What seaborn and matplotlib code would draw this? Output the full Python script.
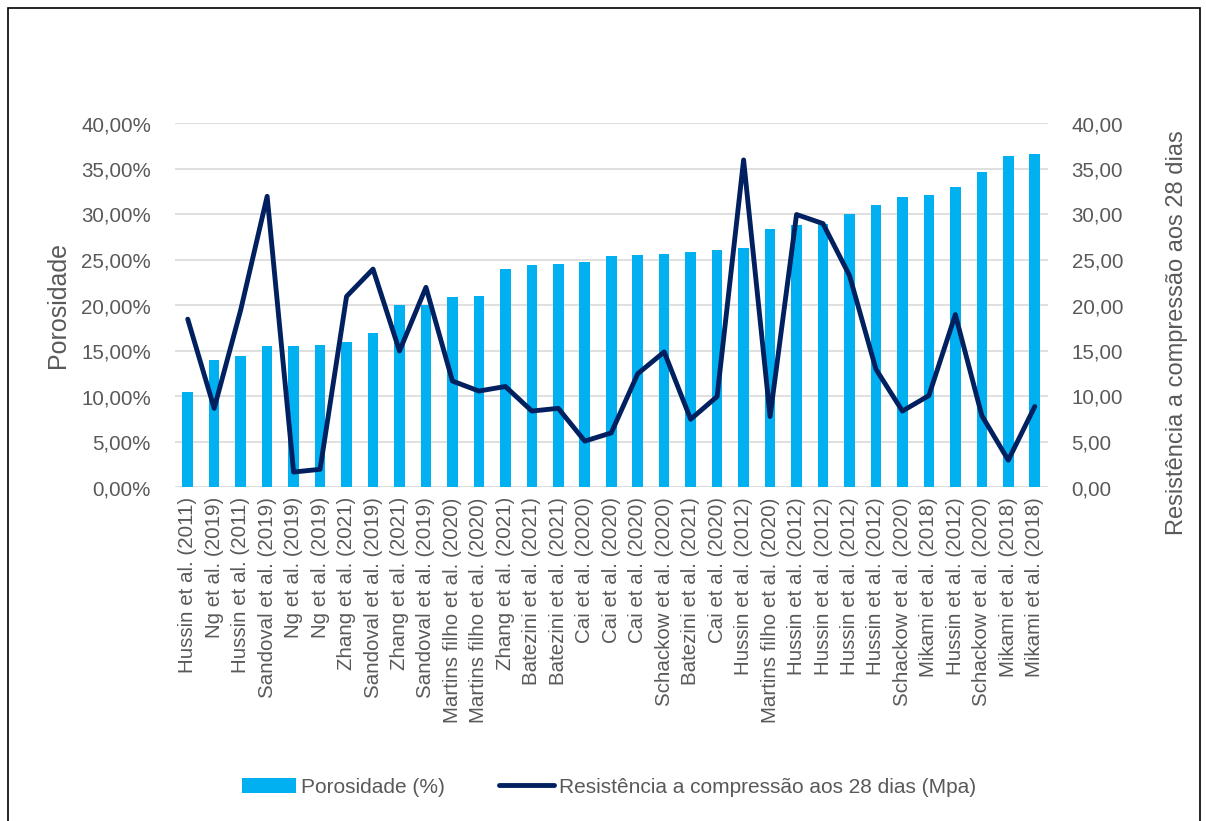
import matplotlib
matplotlib.use("Agg")
import matplotlib.pyplot as plt
import seaborn as sns
import pandas as pd
from matplotlib.ticker import FuncFormatter, MultipleLocator
from matplotlib.patches import Rectangle, Patch
from matplotlib.lines import Line2D

# Studies, in the order they are plotted (sorted by porosity)
estudos = [
    "Hussin et al. (2011)", "Ng et al. (2019)", "Hussin et al. (2011)",
    "Sandoval et al. (2019)", "Ng et al. (2019)", "Ng et al. (2019)",
    "Zhang et al. (2021)", "Sandoval et al. (2019)", "Zhang et al. (2021)",
    "Sandoval et al. (2019)", "Martins filho et al. (2020)",
    "Martins filho et al. (2020)", "Zhang et al. (2021)",
    "Batezini et al. (2021)", "Batezini et al. (2021)", "Cai et al. (2020)",
    "Cai et al. (2020)", "Cai et al. (2020)", "Schackow et al. (2020)",
    "Batezini et al. (2021)", "Cai et al. (2020)", "Hussin et al. (2012)",
    "Martins filho et al. (2020)", "Hussin et al. (2012)",
    "Hussin et al. (2012)", "Hussin et al. (2012)", "Hussin et al. (2012)",
    "Schackow et al. (2020)", "Mikami et al. (2018)", "Hussin et al. (2012)",
    "Schackow et al. (2020)", "Mikami et al. (2018)", "Mikami et al. (2018)",
]

# Porosity (%)
porosidade = [
    10.5, 14.0, 14.4, 15.5, 15.5, 15.7, 16.0, 17.0, 20.0, 20.0, 20.9,
    21.0, 24.0, 24.4, 24.6, 24.8, 25.4, 25.6, 25.7, 25.9, 26.1, 26.3,
    28.4, 28.8, 29.0, 30.0, 31.0, 31.9, 32.1, 33.0, 34.7, 36.4, 36.7,
]

# 28-day compressive strength (MPa)
resistencia = [
    18.5, 8.7, 19.5, 32.0, 1.7, 2.0, 21.0, 24.0, 15.0, 22.0, 11.7,
    10.6, 11.1, 8.4, 8.7, 5.1, 6.0, 12.5, 14.9, 7.5, 10.0, 36.0,
    7.8, 30.0, 29.0, 23.3, 13.0, 8.4, 10.1, 19.0, 7.9, 3.0, 8.9,
]

COR_BARRA = "#00B0F0"
COR_LINHA = "#002060"
COR_TEXTO = "#595959"
COR_GRADE = "#D9D9D9"

sns.set_theme(style="white")
plt.rcParams["font.family"] = ["Liberation Sans", "DejaVu Sans"]

df = pd.DataFrame({
    "pos": range(len(estudos)),
    "estudo": estudos,
    "porosidade": porosidade,
    "resistencia": resistencia,
})

W, H = 1206, 821
fig = plt.figure(figsize=(W / 100, H / 100), dpi=100)
x0, x1, y0, y1 = 174.5, 1048.0, 123.5, 487.5
ax = fig.add_axes([x0 / W, 1 - y1 / H, (x1 - x0) / W, (y1 - y0) / H])

sns.barplot(data=df, x="pos", y="porosidade", color=COR_BARRA,
            saturation=1, width=0.4, linewidth=0, ax=ax)

ax2 = ax.twinx()
sns.lineplot(data=df, x="pos", y="resistencia", color=COR_LINHA,
             linewidth=3.5, ax=ax2, solid_capstyle="round",
             solid_joinstyle="round")

ax.set_xlim(-0.5, len(estudos) - 0.5)
for a in (ax, ax2):
    a.set_ylim(0, 40)
    a.yaxis.set_major_locator(MultipleLocator(5))
    for s in a.spines.values():
        s.set_visible(False)

ax.yaxis.set_major_formatter(
    FuncFormatter(lambda v, _: f"{v:.2f}%".replace(".", ",")))
ax2.yaxis.set_major_formatter(
    FuncFormatter(lambda v, _: f"{v:.2f}".replace(".", ",")))

ax.set_axisbelow(True)
ax.yaxis.grid(True, color=COR_GRADE, linewidth=1.2)
ax.xaxis.grid(False)
ax2.grid(False)

ax.set_xticks(range(len(estudos)))
ax.set_xticklabels(estudos, rotation=90)
ax.tick_params(axis="x", length=0, pad=7, labelsize=14.8, labelcolor=COR_TEXTO)
ax.tick_params(axis="y", length=0, pad=17, labelsize=14.8, labelcolor=COR_TEXTO)
ax2.tick_params(axis="y", length=0, pad=17, labelsize=14.8, labelcolor=COR_TEXTO)
ax.set_xlabel("")
ax2.set_xlabel("")

ax.set_ylabel("Porosidade", fontsize=18, color=COR_TEXTO)
ax.yaxis.label.set_va("center")
ax.yaxis.set_label_coords((58 - x0) / (x1 - x0), 0.5)

ax2.set_ylabel("Resistência a compressão aos 28 dias", fontsize=17,
               color=COR_TEXTO, rotation=90)
ax2.yaxis.label.set_va("center")
ax2.yaxis.set_label_coords((1177 - x0) / (x1 - x0), 1 - (333 - y0) / (y1 - y0))

handles = [
    Patch(facecolor=COR_BARRA, edgecolor="none"),
    Line2D([0], [0], color=COR_LINHA, linewidth=3.5, solid_capstyle="round"),
]
fig.legend(handles, ["Porosidade (%)",
                     "Resistência a compressão aos 28 dias (Mpa)"],
           loc="center", bbox_to_anchor=(609 / W, 1 - 787 / H), ncol=2,
           frameon=False, fontsize=15, labelcolor=COR_TEXTO,
           handlelength=2.6, handletextpad=0.25, columnspacing=2.6)

# Thin outer frame around the chart area
fig.patches.append(Rectangle((8 / W, -0.02), (1200 - 8) / W, 1.02 - 8 / H,
                             transform=fig.transFigure, fill=False,
                             edgecolor="black", linewidth=1.2))

fig.savefig("out.png", dpi=100)
